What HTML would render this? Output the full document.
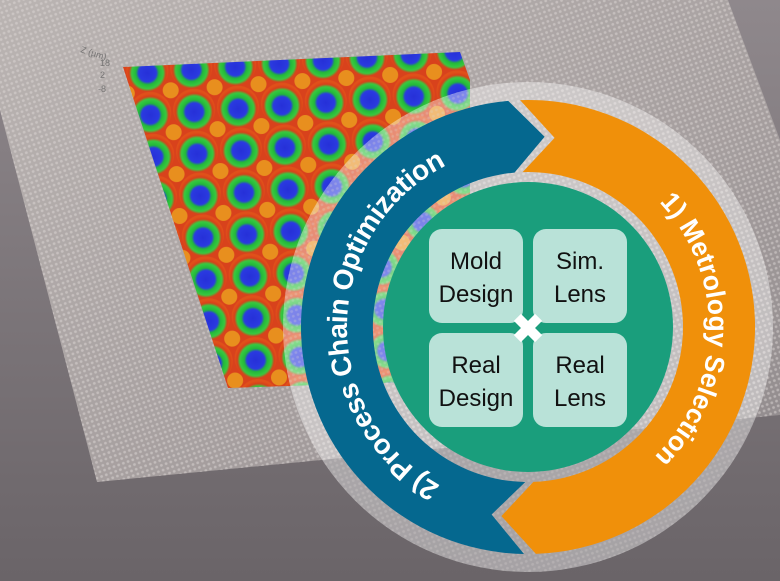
<!DOCTYPE html>
<html><head><meta charset="utf-8"><style>
html,body{margin:0;padding:0;width:780px;height:581px;overflow:hidden;background:#777}
svg{display:block}
text{font-family:"Liberation Sans","DejaVu Sans",sans-serif}
</style></head><body>
<svg width="780" height="581" viewBox="0 0 780 581" xmlns="http://www.w3.org/2000/svg">
<defs>
<linearGradient id="bg" x1="0" y1="0" x2="0" y2="1">
<stop offset="0" stop-color="#8f888c"/><stop offset="1" stop-color="#6a6468"/></linearGradient>
<linearGradient id="sheet" x1="0" y1="0" x2="1" y2="1">
<stop offset="0" stop-color="#bab4b2"/><stop offset="0.6" stop-color="#a69f9f"/><stop offset="1" stop-color="#908a8c"/></linearGradient>
<pattern id="dots" width="5" height="5" patternUnits="userSpaceOnUse" patternTransform="rotate(-20)">
<circle cx="2.5" cy="2.5" r="1.4" fill="#ddd8d6" opacity="0.5"/></pattern>
<radialGradient id="dome" cx="0.5" cy="0.55" r="0.5">
<stop offset="0" stop-color="#2630d8"/><stop offset="0.42" stop-color="#2a3ae0"/><stop offset="0.55" stop-color="#22b83a"/><stop offset="0.75" stop-color="#38c840"/><stop offset="0.88" stop-color="#d8401a"/><stop offset="1" stop-color="#e0501a"/></radialGradient>
<pattern id="lens" width="44" height="42" patternUnits="userSpaceOnUse" patternTransform="rotate(-4) translate(120,60)">
<rect width="44" height="42" fill="#d8421c"/>
<circle cx="22" cy="21" r="21" fill="url(#dome)"/>
<circle cx="0" cy="0" r="8" fill="#f0b020" opacity=".7"/>
<circle cx="44" cy="0" r="8" fill="#f0b020" opacity=".7"/>
<circle cx="0" cy="42" r="8" fill="#f0b020" opacity=".7"/>
<circle cx="44" cy="42" r="8" fill="#f0b020" opacity=".7"/>
</pattern>
</defs>
<rect width="780" height="581" fill="url(#bg)"/>
<polygon points="0,0 728,0 780,140 780,415 97,482 0,110" fill="url(#sheet)"/>
<polygon points="0,0 728,0 780,140 780,415 97,482 0,110" fill="url(#dots)"/>
<polygon points="123,67 460,52 470,80 470,380 228,388" fill="url(#lens)"/>
<g fill="#666" font-size="9" opacity=".8"><text x="80" y="52" transform="rotate(18 80 52)">Z (µm)</text><text x="100" y="66">18</text><text x="100" y="78">2</text><text x="98" y="92">-8</text></g>

<circle cx="528" cy="327" r="245" fill="#ffffff" opacity="0.4"/>
<circle cx="528" cy="327" r="245" fill="url(#dots)" opacity="0.5"/>

<path d="M524.0,554.0 A227,227 0 0 1 508.2,100.9 L544.6,136.7 L514.5,172.6 A155,155 0 0 0 525.3,482.0 L491.6,514.5 Z" fill="#05688f"/>
<path d="M520.1,100.1 A227,227 0 0 1 754.9,319.1 A227,227 0 0 1 535.9,553.9 L501.4,516.1 L533.4,481.9 A155,155 0 0 0 682.9,321.6 A155,155 0 0 0 522.6,172.1 L554.6,137.9 Z" fill="#f0900a"/>

<path id="bp" d="M440.2,485.3 A181,181 0 0 1 448.7,164.3" fill="none"/>
<path id="op" d="M649.1,192.5 A181,181 0 0 1 649.1,461.5" fill="none"/>
<text font-size="28" fill="#fff" font-weight="bold"><textPath href="#bp" textLength="392" lengthAdjust="spacing">2) Process Chain Optimization</textPath></text>
<text font-size="27" fill="#fff" font-weight="bold"><textPath href="#op" startOffset="14" textLength="282" lengthAdjust="spacingAndGlyphs">1) Metrology Selection</textPath></text>

<circle cx="528" cy="327" r="145" fill="#1a9e7c"/>
<g fill="#b9e2d8">
<rect x="429" y="229" width="94" height="94" rx="13"/>
<rect x="533" y="229" width="94" height="94" rx="13"/>
<rect x="429" y="333" width="94" height="94" rx="13"/>
<rect x="533" y="333" width="94" height="94" rx="13"/>
</g>
<g font-size="24" fill="#111" text-anchor="middle">
<text x="476" y="269">Mold</text><text x="476" y="302">Design</text>
<text x="580" y="269">Sim.</text><text x="580" y="302">Lens</text>
<text x="476" y="373">Real</text><text x="476" y="406">Design</text>
<text x="580" y="373">Real</text><text x="580" y="406">Lens</text>
</g>
<g transform="translate(528,328) rotate(45)" fill="#fff">
<rect x="-15" y="-5" width="30" height="10"/><rect x="-5" y="-15" width="10" height="30"/>
</g>
</svg>
</body></html>
